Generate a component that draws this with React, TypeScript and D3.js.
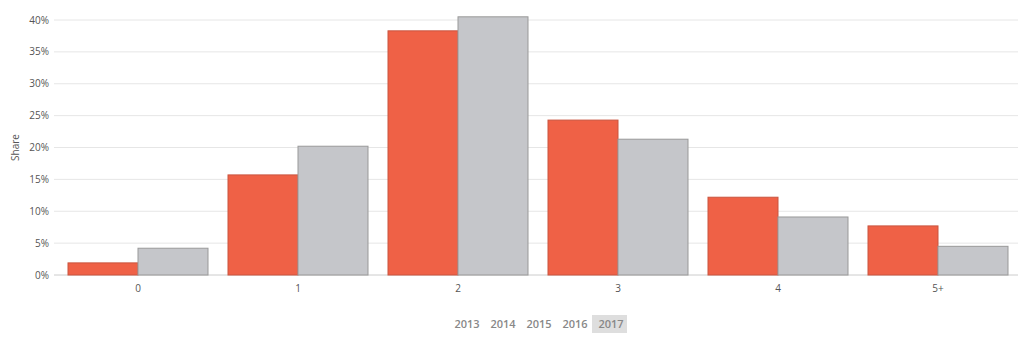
import React from "react";
import * as d3 from "d3";

const categories = ["0", "1", "2", "3", "4", "5+"];
const seriesA = [1.9, 15.7, 38.3, 24.3, 12.2, 7.7];
const seriesB = [4.2, 20.2, 40.5, 21.3, 9.1, 4.5];
const yTicks = [0, 5, 10, 15, 20, 25, 30, 35, 40];
const legendYears = ["2013", "2014", "2015", "2016", "2017"];

export default function App() {
  const W = 1024, H = 341;
  const left = 58, right = 1018, top = 20, bottom = 275;
  const x = d3.scaleBand().domain(categories).range([left, right]).paddingInner(0).paddingOuter(0);
  const y = d3.scaleLinear().domain([0, 40]).range([bottom, top]);
  const bw = x.bandwidth();
  const pad = 10;
  const barW = (bw - 2 * pad) / 2;
  const font = "'Open Sans', Arial, sans-serif";
  return (
    <svg width={W} height={H} style={{ position: "absolute", left: 0, top: 0, background: "#fff" }}>
      {yTicks.map((t) => (
        <g key={t}>
          <line x1={54} x2={right} y1={y(t)} y2={y(t)} stroke={t === 0 ? "#ccc" : "#e6e6e6"} strokeWidth={1} />
          <text x={49} y={y(t)} dy="0.35em" textAnchor="end" fontSize={10} fill="#555" fontFamily={font}>
            {t}%
          </text>
        </g>
      ))}
      <text transform={`translate(19,${(top + bottom) / 2}) rotate(-90)`} textAnchor="middle" fontSize={10} fill="#555" fontFamily={font}>
        Share
      </text>
      {categories.map((c, i) => {
        const x0 = x(c)! + pad;
        return (
          <g key={c}>
            <rect x={x0} y={y(seriesA[i])} width={barW} height={bottom - y(seriesA[i])} fill="#EF6146" stroke="#c9553f" strokeWidth={1} />
            <rect x={x0 + barW} y={y(seriesB[i])} width={barW} height={bottom - y(seriesB[i])} fill="#C5C6CA" stroke="#999" strokeWidth={1} />
            <text x={x(c)! + bw / 2} y={292} textAnchor="middle" fontSize={10} fill="#555" fontFamily={font}>
              {c}
            </text>
          </g>
        );
      })}
      <rect x={592} y={315} width={35} height={18} fill="#dedede" />
      {legendYears.map((yr, i) => (
        <text key={yr} x={467 + i * 36} y={328} textAnchor="middle" fontSize={11} fontWeight={600} fill="#888" fontFamily={font}>
          {yr}
        </text>
      ))}
    </svg>
  );
}
